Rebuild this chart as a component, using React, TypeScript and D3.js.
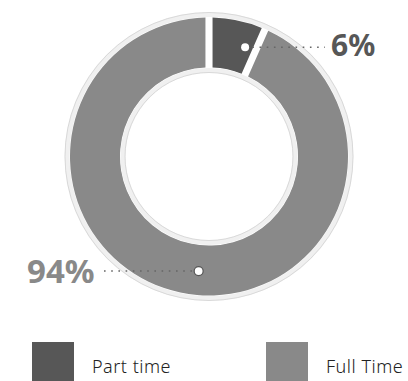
import React from "react";
import * as d3 from "d3";

const categories = ["Part time", "Full Time"];
const values = [6, 94];
const labels = ["6%", "94%"];
const colors = ["#575757", "#898989"];
// fraction along each slice where its label marker sits
const markerAt = [0.77, 0.48];

const W = 408;
const H = 381;
const cx = 209;
const cy = 156.5;
const rOuter = 139;
const rInner = 89;

export default function App() {
  const pie = d3
    .pie<number>()
    .sort(null)
    .value((d) => d)
    .startAngle(0)
    .endAngle(2 * Math.PI)
    .padAngle(0.043);
  const arcs = pie(values);
  const arc = d3.arc<d3.PieArcDatum<number>>().innerRadius(rInner).outerRadius(rOuter);

  const markers = arcs.map((a, i) => {
    const ang = a.startAngle + (a.endAngle - a.startAngle) * markerAt[i];
    const r = 115;
    return { x: cx + r * Math.sin(ang), y: cy - r * Math.cos(ang) };
  });

  const font = "'Noto Sans', sans-serif";

  return (
    <svg
      width={W}
      height={H}
      style={{ position: "absolute", left: 0, top: 0, display: "block" }}
    >
      <rect width={W} height={H} fill="#fff" />
      {/* outer halo */}
      <circle cx={cx} cy={cy} r={rOuter + 3} fill="none" stroke="#f0f0f0" strokeWidth={5} />
      <circle cx={cx} cy={cy} r={rOuter + 5} fill="none" stroke="#cfcfcf" strokeWidth={0.7} />
      <g transform={`translate(${cx},${cy})`}>
        {arcs.map((a, i) => (
          <path key={categories[i]} d={arc(a) || ""} fill={colors[i]} />
        ))}
      </g>
      {/* inner halo */}
      <circle cx={cx} cy={cy} r={rInner - 3} fill="none" stroke="#f0f0f0" strokeWidth={5} />
      <circle cx={cx} cy={cy} r={rInner - 5} fill="none" stroke="#cfcfcf" strokeWidth={0.7} />

      {/* part-time label */}
      <line
        x1={markers[0].x}
        y1={markers[0].y}
        x2={325}
        y2={markers[0].y}
        stroke="#666"
        strokeWidth={1.6}
        strokeDasharray="1.6,5.6"
      />
      <circle cx={markers[0].x} cy={markers[0].y} r={4} fill="#fff" />
      <text x={331} y={55.5} fontFamily={font} fontWeight={700} fontSize={30} fill={colors[0]}>
        {labels[0]}
      </text>

      {/* full-time label */}
      <line
        x1={104}
        y1={markers[1].y}
        x2={markers[1].x}
        y2={markers[1].y}
        stroke="#666"
        strokeWidth={1.6}
        strokeDasharray="1.6,5.6"
      />
      <circle cx={markers[1].x} cy={markers[1].y} r={4.5} fill="#fff" stroke="#555" strokeWidth={1.2} />
      <text x={27} y={283} fontFamily={font} fontWeight={700} fontSize={33} fill={colors[1]}>
        {labels[1]}
      </text>

      {/* legend */}
      {categories.map((c, i) => {
        const x0 = i === 0 ? 32 : 266;
        return (
          <g key={c}>
            <rect x={x0} y={342} width={42} height={40} fill={colors[i]} />
            <text
              x={x0 + 60}
              y={372.5}
              fontFamily={font}
              fontSize={18}
              fontWeight={300}
              letterSpacing={0.5}
              fill="#222"
            >
              {c}
            </text>
          </g>
        );
      })}
    </svg>
  );
}
